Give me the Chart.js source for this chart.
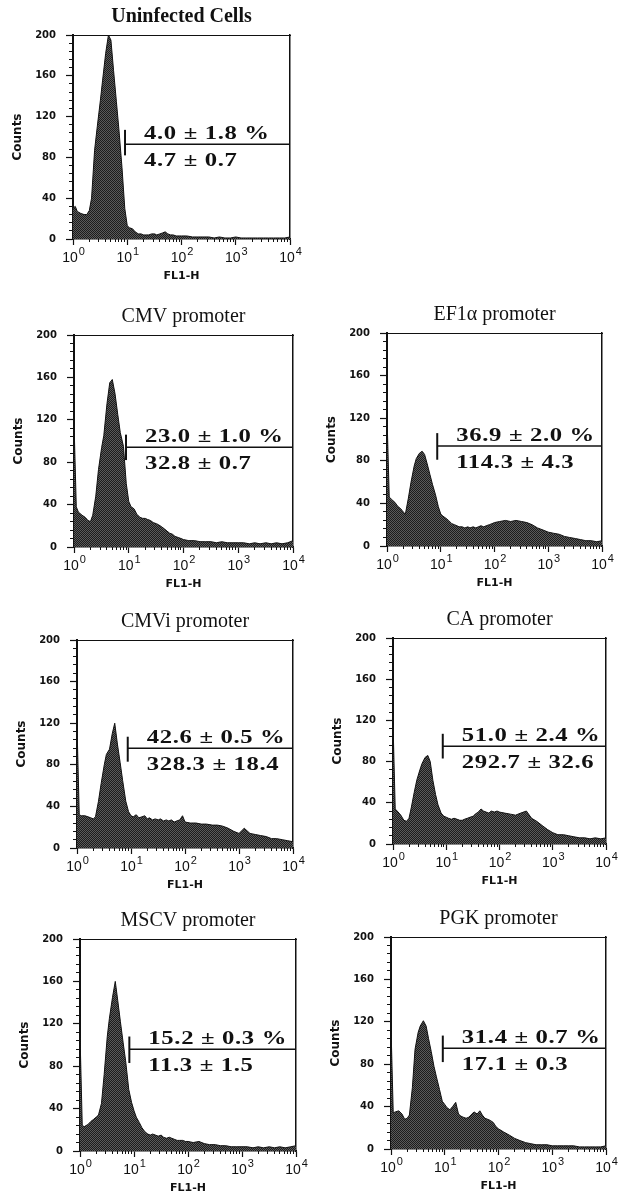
<!DOCTYPE html>
<html>
<head>
<meta charset="utf-8">
<script src="https://cdn.jsdelivr.net/npm/chart.js@4.4.1/dist/chart.umd.min.js"></script>
<style>
  html, body { margin: 0; padding: 0; background: #fff; }
  body { position: relative; width: 619px; height: 1201px; overflow: hidden; }
  canvas { position: absolute; }
</style>
</head>
<body>
<script>
// FL1-H channel positions used for every histogram
const fl1Channels = [
  1, 1.1, 1.2, 1.4, 1.6, 1.8, 2, 2.2, 2.5, 2.8,
  3.2, 3.5, 4, 4.5, 5, 5.6, 6.3, 7, 8, 9,
  10, 11, 12.5, 14, 16, 18, 20, 22, 25, 28,
  32, 35, 40, 45, 50, 56, 63, 70, 80, 90,
  100, 125, 160, 200, 250, 320, 400, 500, 630, 800,
  1000, 1250, 1600, 2000, 2500, 3200, 4000, 5000, 6300, 8000,
  10000
];

const uninfectedCounts = [
  30, 32, 27, 25, 24, 24, 28, 40, 87, 110,
  136, 155, 182, 200, 195, 165, 135, 108, 70, 30,
  13, 11, 10, 7, 5, 5, 4, 4, 4, 5,
  5, 4, 5, 6, 7, 5, 4, 4, 3, 3,
  3, 3, 2, 2, 2, 2, 1, 2, 1, 1,
  2, 1, 1, 1, 1, 1, 1, 1, 1, 1,
  2
];
const cmvCounts = [
  118, 38, 33, 30, 28, 25, 24, 30, 48, 73,
  94, 105, 135, 155, 158, 145, 125, 108, 95, 60,
  43, 38, 36, 31, 28, 27, 27, 26, 25, 23,
  22, 21, 19, 17, 15, 13, 12, 10, 9, 8,
  7, 6, 6, 5, 5, 5, 4, 5, 4, 4,
  4, 4, 3, 4, 3, 4, 3, 4, 3, 4,
  6
];
const ef1aCounts = [
  122, 46, 44, 41, 37, 35, 32, 30, 45, 60,
  75, 82, 87, 89, 86, 77, 67, 58, 48, 37,
  30, 28, 26, 24, 21, 20, 19, 18, 18, 17,
  18, 17, 18, 17, 18, 19, 18, 19, 20, 21,
  22, 23, 24, 23, 24, 23, 22, 20, 17, 15,
  13, 12, 11, 9, 8, 7, 6, 5, 5, 4,
  5
];
const cmviCounts = [
  118, 32, 31, 31, 30, 29, 28, 30, 45, 62,
  80, 90, 95, 110, 120, 100, 82, 65, 45, 35,
  31, 30, 32, 29, 30, 31, 28, 29, 27, 28,
  27, 28, 26, 27, 26, 27, 25, 26, 27, 31,
  25, 24, 24, 23, 23, 22, 22, 21, 19, 16,
  14, 19, 14, 13, 12, 11, 9, 9, 8, 7,
  6
];
const caCounts = [
  118, 34, 32, 28, 23, 22, 25, 35, 50, 62,
  72, 78, 84, 86, 80, 62, 48, 38, 30, 27,
  26, 25, 24, 25, 24, 23, 23, 24, 25, 26,
  27, 29, 31, 34, 32, 31, 30, 32, 31, 32,
  31, 30, 29, 28, 30, 32, 25, 22, 18, 14,
  11, 9, 9, 8, 7, 6, 6, 5, 6, 5,
  6
];
const mscvCounts = [
  110, 24, 23, 25, 28, 30, 32, 34, 45, 72,
  108, 125, 145, 160, 142, 122, 102, 85, 58, 46,
  38, 32, 27, 22, 18, 16, 15, 16, 15, 14,
  15, 13, 12, 13, 12, 11, 10, 10, 10, 9,
  9, 8, 9, 7, 6, 6, 5, 5, 4, 4,
  4, 4, 3, 4, 3, 4, 3, 4, 3, 4,
  5
];
const pgkCounts = [
  115, 34, 35, 36, 33, 28, 29, 32, 58, 94,
  110, 116, 121, 116, 104, 92, 78, 68, 56, 45,
  42, 39, 37, 40, 44, 33, 31, 30, 29, 30,
  33, 35, 33, 36, 32, 29, 28, 27, 25, 21,
  19, 16, 13, 10, 8, 6, 5, 4, 4, 4,
  3, 3, 3, 3, 3, 2, 2, 2, 2, 2,
  3
];

const panelTitles = ['Uninfected Cells', 'CMV promoter', 'EF1\u03b1 promoter', 'CMVi promoter',
                     'CA promoter', 'MSCV promoter', 'PGK promoter'];
const panelCounts = [uninfectedCounts, cmvCounts, ef1aCounts, cmviCounts, caCounts, mscvCounts, pgkCounts];

// marker gate and its statistics
const gateChannel = [9.1, 8.9, 8.6, 8.7, 8.6, 8.2, 9.2];
const gateLow = [82, 82, 81, 83, 83, 83, 82];
const gateHigh = [107, 106, 106, 107, 107, 108, 107];
const gateLevel = [93, 94, 94, 96, 95, 96, 95];
const positivePct = [4.0, 23.0, 36.9, 42.6, 51.0, 15.2, 31.4];
const positivePctSd = [1.8, 1.0, 2.0, 0.5, 2.4, 0.3, 0.7];
const meanFluor = [4.7, 32.8, 114.3, 328.3, 292.7, 11.3, 17.1];
const meanFluorSd = [0.7, 0.7, 4.3, 18.4, 32.6, 1.5, 0.3];

const decadeTicks = [1, 10, 100, 1000, 10000];
const countMax = 200;

// plot area of each panel on the page: left, top, right, bottom
const plotBoxes = [
  [73, 35, 290, 239],
  [74, 335, 293, 547],
  [387, 333, 602, 546],
  [77, 640, 293, 848],
  [393, 638, 606, 844],
  [80, 939, 296, 1151],
  [391, 937, 606, 1149]
];

const AXIS_W = 65, PAD_R = 16, TOP_H = 35, BOTTOM_H = 50;
const INK = '#111';

let minorChannels = [];
for (let d = 1; d < 10000; d *= 10) {
  for (let m = 2; m <= 9; m++) minorChannels.push(d * m);
}

function stipple() {
  const tile = document.createElement('canvas');
  tile.width = 2; tile.height = 2;
  const t = tile.getContext('2d');
  t.fillStyle = '#1c1c1c';
  t.fillRect(0, 0, 2, 2);
  t.fillStyle = '#5a5a5a';
  t.fillRect(1, 0, 1, 1);
  t.fillRect(0, 1, 1, 1);
  return t.createPattern(tile, 'repeat');
}
const FILL = stipple();

// gate statistics written beside the marker
const gateLabels = {
  id: 'gateLabels',
  afterDatasetsDraw(chart, args, opts) {
    const ctx = chart.ctx;
    const px = chart.scales.x.getPixelForValue(opts.channel) + 19;
    const py = chart.scales.y.getPixelForValue(opts.level);
    ctx.save();
    ctx.fillStyle = INK;
    ctx.font = 'bold 19px "Liberation Serif", serif';
    ctx.letterSpacing = '0.5px';
    ctx.textAlign = 'left';
    ctx.textBaseline = 'alphabetic';
    ctx.translate(px, py);
    ctx.scale(1.3, 1);
    ctx.fillText(opts.upper, 0, -5);
    ctx.fillText(opts.lower, 0, 22);
    ctx.restore();
  }
};

// decade labels 10^n under the log axis
const decadeLabels = {
  id: 'decadeLabels',
  afterDraw(chart) {
    const ctx = chart.ctx;
    const xs = chart.scales.x;
    const top = chart.chartArea.bottom + 10;
    ctx.save();
    ctx.fillStyle = INK;
    ctx.textBaseline = 'top';
    ctx.textAlign = 'left';
    decadeTicks.forEach((d, n) => {
      const px = xs.getPixelForValue(d);
      ctx.font = '14px "Liberation Sans", sans-serif';
      const w1 = ctx.measureText('10').width;
      const x0 = px - w1 / 2 - 3;
      ctx.fillText('10', x0, top + 2);
      ctx.font = '11px "Liberation Sans", sans-serif';
      ctx.fillText(String(n), x0 + w1 + 1, top - 3);
    });
    ctx.restore();
  }
};

function makePanel(i) {
  const [L, T, R, B] = plotBoxes[i];
  const w = R - L + AXIS_W + PAD_R;
  const h = B - T + TOP_H + BOTTOM_H;
  const canvas = document.createElement('canvas');
  canvas.width = w;
  canvas.height = h;
  canvas.style.left = (L - AXIS_W) + 'px';
  canvas.style.top = (T - TOP_H) + 'px';
  canvas.style.width = w + 'px';
  canvas.style.height = h + 'px';
  document.body.appendChild(canvas);

  const counts = panelCounts[i];
  const g = gateChannel[i];

  new Chart(canvas, {
    type: 'line',
    data: {
      datasets: [
        {
          data: [{x: g, y: gateLow[i]}, {x: g, y: gateHigh[i]}],
          borderColor: INK, borderWidth: 2, pointRadius: 0, fill: false, order: 0
        },
        {
          data: [{x: g, y: gateLevel[i]}, {x: 10000, y: gateLevel[i]}],
          borderColor: INK, borderWidth: 1.5, pointRadius: 0, fill: false, order: 0
        },
        {
          data: fl1Channels.map((c, k) => ({x: c, y: counts[k]})),
          borderColor: '#111', borderWidth: 1, backgroundColor: FILL,
          fill: 'origin', pointRadius: 0, tension: 0, order: 1
        }
      ]
    },
    options: {
      responsive: false,
      animation: false,
      devicePixelRatio: 1,
      layout: { padding: { top: 5, right: PAD_R, left: 0, bottom: 0 } },
      plugins: {
        legend: { display: false },
        tooltip: { enabled: false },
        title: {
          display: true,
          fullSize: false,
          text: panelTitles[i],
          color: INK,
          font: { family: '"Liberation Serif", serif', size: 20, weight: i === 0 ? 'bold' : 'normal', lineHeight: 1.2 },
          padding: { top: 0, bottom: 6 }
        },
        gateLabels: {
          channel: g,
          level: gateLevel[i],
          upper: positivePct[i].toFixed(1) + ' \u00b1 ' + positivePctSd[i].toFixed(1) + ' %',
          lower: meanFluor[i].toFixed(1) + ' \u00b1 ' + meanFluorSd[i].toFixed(1)
        }
      },
      scales: {
        x: {
          type: 'logarithmic', position: 'bottom', min: 1, max: 10000, weight: 1,
          afterBuildTicks: s => { s.ticks = decadeTicks.map(v => ({value: v, major: true})); },
          afterFit: s => { s.height = BOTTOM_H; },
          grid: { drawOnChartArea: false, tickLength: 6, tickColor: INK, tickWidth: 1.2 },
          border: { color: INK, width: 1.5 },
          ticks: { display: false },
          title: {
            display: true, text: 'FL1-H', color: INK,
            font: { family: '"DejaVu Sans", sans-serif', size: 11, weight: 'bold' },
            padding: { top: 0, bottom: 6 }
          }
        },
        xMinor: {
          type: 'logarithmic', axis: 'x', position: 'bottom', min: 1, max: 10000, weight: 0,
          afterBuildTicks: s => { s.ticks = minorChannels.map(v => ({value: v})); },
          afterFit: s => { s.height = 0; },
          grid: { drawOnChartArea: false, tickLength: 3, tickColor: INK },
          border: { display: false },
          ticks: { display: false }
        },
        y: {
          type: 'linear', position: 'left', min: 0, max: countMax, weight: 1,
          afterFit: s => { s.width = AXIS_W; },
          grid: { drawOnChartArea: false, tickLength: 7, tickColor: INK, tickWidth: 1.2 },
          border: { color: INK, width: 2 },
          ticks: {
            stepSize: 40, color: INK, padding: 10,
            font: { family: '"DejaVu Sans", sans-serif', size: 10, weight: 'bold' }
          },
          title: {
            display: true, text: 'Counts', color: INK,
            font: { family: '"DejaVu Sans", sans-serif', size: 12, weight: 'bold' },
            padding: { top: 3, bottom: 0 }
          }
        },
        yMinor: {
          type: 'linear', axis: 'y', position: 'left', min: 0, max: countMax, weight: 0,
          afterFit: s => { s.width = 0; },
          grid: { drawOnChartArea: false, tickLength: 4, tickColor: INK },
          border: { display: false },
          ticks: { display: false, stepSize: 8 }
        },
        frameTop: {
          type: 'linear', axis: 'x', position: 'top',
          afterFit: s => { s.height = 0; },
          grid: { drawOnChartArea: false, drawTicks: false },
          border: { color: INK, width: 1 },
          ticks: { display: false }
        },
        frameRight: {
          type: 'linear', axis: 'y', position: 'right',
          afterFit: s => { s.width = 0; },
          grid: { drawOnChartArea: false, drawTicks: false },
          border: { color: INK, width: 1.5 },
          ticks: { display: false }
        }
      }
    },
    plugins: [gateLabels, decadeLabels]
  });
}

for (let i = 0; i < plotBoxes.length; i++) makePanel(i);
</script>
</body>
</html>
